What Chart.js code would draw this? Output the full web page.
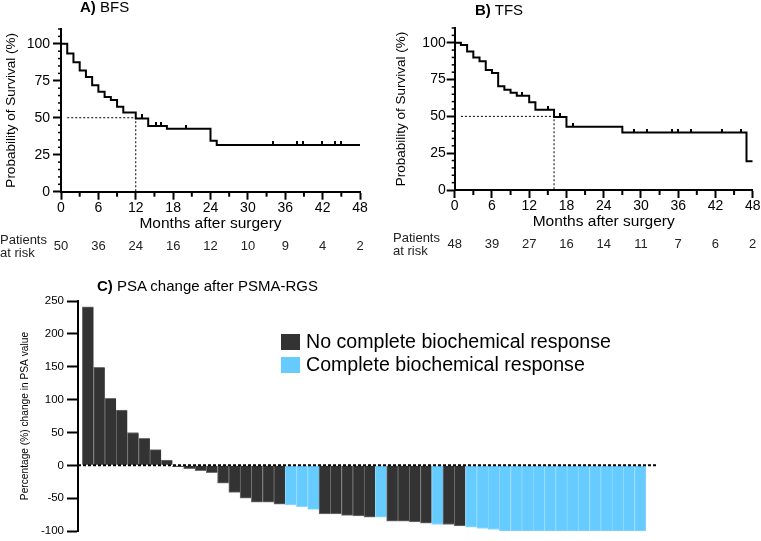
<!DOCTYPE html>
<html>
<head>
<meta charset="utf-8">
<script src="https://cdn.jsdelivr.net/npm/chart.js@4.4.0/dist/chart.umd.min.js"></script>
<style>
  body { margin: 0; background: #fff; font-family: "Liberation Sans", Arial, sans-serif; color: #000; }
  #wrap { position: relative; width: 761px; height: 541px; overflow: hidden; }
  canvas, .t { position: absolute; }
  .t { white-space: nowrap; }
  .sw { position: absolute; width: 19px; height: 16px; }
</style>
</head>
<body>
<div id="wrap">
  <canvas id="kmA" width="380" height="262" style="left:0;top:0"></canvas>
  <canvas id="kmB" width="381" height="262" style="left:380px;top:0"></canvas>
  <canvas id="psa" width="761" height="266" style="left:0;top:275px"></canvas>

  <div class="t" style="left:80px;top:-1px;font-size:15px;line-height:15px"><b>A)</b> BFS</div>
  <div class="t" style="left:475px;top:2px;font-size:15px;line-height:15px"><b>B)</b> TFS</div>
  <div class="t" style="left:97px;top:278px;font-size:15px;line-height:15px"><b>C)</b> PSA change after PSMA-RGS</div>

  <div class="t" style="left:0;top:234px;font-size:13px;line-height:12.5px;color:#222">Patients<br>at risk</div>
  <div class="t" style="left:393px;top:232px;font-size:13px;line-height:12.5px;color:#222">Patients<br>at risk</div>

  <div class="sw" style="left:281px;top:334px;background:#333333"></div>
  <div class="t" style="left:306px;top:333px;font-size:19.6px;line-height:17px">No complete biochemical response</div>
  <div class="sw" style="left:281px;top:357px;background:#66ccff"></div>
  <div class="t" style="left:306px;top:356px;font-size:19.6px;line-height:17px">Complete biochemical response</div>
</div>
<script>
// A) BFS - Kaplan-Meier steps (months, survival %)
const monthsA = [0, 1, 2, 3, 4, 5, 6, 7, 8, 9, 10, 12, 14, 17, 24, 25, 48];
const survA = [100, 93.5, 87.5, 82, 77.5, 72, 67.5, 64, 62, 57.5, 53.5, 49.5, 44.5, 42.5, 34.5, 31.5, 31.5];
const censorA = [13, 15.2, 16.1, 20, 34, 37.9, 38.9, 41.9, 44, 44.9];
const medianA = 12;
const riskA = [50, 36, 24, 16, 12, 10, 9, 4, 2];

// B) TFS
const monthsB = [0, 1, 2, 3, 4, 5, 6, 7, 8, 9, 10, 12, 13, 16, 18, 27, 47, 48];
const survB = [100, 98.4, 94, 90, 87.5, 81.5, 79.5, 70.5, 68, 66, 64, 59.5, 54.5, 49.5, 43, 39, 19.5, 19.5];
const censorB = [10.9, 15, 17, 19, 28.9, 31, 35, 36, 38, 43, 46.1];
const medianB = 16;
const riskB = [48, 39, 27, 16, 14, 11, 7, 6, 2];

const riskMonths = [0, 6, 12, 18, 24, 30, 36, 42, 48];
const survTicks = [0, 25, 50, 75, 100];

// C) PSA change (%) per patient, 1 = complete biochemical response
const psaChange = [241, 149, 102, 84, 50, 41, 24, 8, -2, -5, -8, -11, -27, -41, -50, -56, -56, -59,
  -60, -63, -67, -74, -74, -76, -77, -79, -79, -85, -85, -86, -88, -90, -90, -92,
  -94, -96, -97.5, -100, -100, -100, -100, -100, -100, -100, -100, -100, -100, -100, -100, -100];
const completeResponse = [0, 0, 0, 0, 0, 0, 0, 0, 0, 0, 0, 0, 0, 0, 0, 0, 0, 0,
  1, 1, 1, 0, 0, 0, 0, 0, 1, 0, 0, 0, 0, 1, 0, 0,
  1, 1, 1, 1, 1, 1, 1, 1, 1, 1, 1, 1, 1, 1, 1, 1];

Chart.defaults.font.family = '"Liberation Sans", Arial, sans-serif';
Chart.defaults.color = '#000';

function survAt(months, surv, t) {
  let v = surv[0];
  months.forEach((m, i) => { if (m <= t) v = surv[i]; });
  return v;
}

// small censor tick sitting on top of the curve
function censorMark() {
  const c = document.createElement('canvas');
  c.width = 2; c.height = 8;
  const g = c.getContext('2d');
  g.fillStyle = '#000';
  g.fillRect(0, 0, 2, 4);
  return c;
}

function kmChart(id, months, surv, censor, median, risk, lay) {
  const riskPlugin = {
    id: 'risk',
    afterDraw(chart) {
      const { ctx, scales: { x, y } } = chart;
      ctx.save();
      ctx.strokeStyle = '#000';
      ctx.lineWidth = 2;
      for (let m = 3; m < 48; m += 6) {
        const px = x.getPixelForValue(m);
        ctx.beginPath(); ctx.moveTo(px, y.bottom); ctx.lineTo(px, y.bottom + 5); ctx.stroke();
      }
      ctx.lineWidth = 1.5;
      for (let v = 5; v <= 110; v += 5) {
        if (v % 25 === 0) continue;
        const py = y.getPixelForValue(v);
        ctx.beginPath(); ctx.moveTo(x.left, py); ctx.lineTo(x.left - 3, py); ctx.stroke();
      }
      ctx.fillStyle = '#222';
      ctx.font = '13px "Liberation Sans", Arial, sans-serif';
      ctx.textAlign = 'center';
      ctx.textBaseline = 'middle';
      risk.forEach((n, i) => ctx.fillText(n, x.getPixelForValue(riskMonths[i]), lay.riskY));
      ctx.restore();
    }
  };

  return new Chart(document.getElementById(id), {
    type: 'line',
    data: {
      datasets: [
        {
          data: [{ x: 1, y: 50 }, { x: median, y: 50 }, { x: median, y: 0 }],
          borderColor: '#000', borderWidth: 1, borderDash: [2, 2], pointRadius: 0
        },
        {
          data: months.map((m, i) => ({ x: m, y: surv[i] })),
          stepped: true, borderColor: '#000', borderWidth: 2, pointRadius: 0
        },
        {
          data: censor.map(m => ({ x: m, y: survAt(months, surv, m) })),
          showLine: false, pointStyle: censorMark(), pointRadius: 3
        }
      ]
    },
    options: {
      responsive: false,
      animation: false,
      layout: { padding: lay.padding },
      plugins: { legend: { display: false }, tooltip: { enabled: false } },
      scales: {
        x: {
          type: 'linear', min: 0, max: 48,
          ticks: { stepSize: 6, font: { size: 14 }, color: '#000', padding: lay.tickPad, maxRotation: 0 },
          grid: { drawOnChartArea: false, tickLength: 8, tickWidth: 2, tickColor: '#000' },
          border: { color: '#000', width: 2 },
          title: { display: true, text: 'Months after surgery', font: { size: 15.5 }, color: '#000',
            padding: { top: 0, bottom: lay.titlePad } },
          afterFit: s => { s.height = 45; }
        },
        y: {
          type: 'linear', min: 0, max: 110,
          afterBuildTicks: s => { s.ticks = survTicks.map(v => ({ value: v })); },
          ticks: { font: { size: 14 }, color: '#000', padding: lay.yTickPad },
          grid: { drawOnChartArea: false, tickLength: 8, tickWidth: 2, tickColor: '#000' },
          border: { color: '#000', width: 2 },
          title: { display: true, text: 'Probability of Survival (%)', font: { size: 13.5 }, color: '#000',
            padding: { top: lay.yTitlePad, bottom: 0 } },
          afterFit: s => { s.width = lay.yWidth; }
        }
      }
    },
    plugins: [riskPlugin]
  });
}

kmChart('kmA', monthsA, survA, censorA, medianA, riskA, {
  padding: { top: 29, right: 20, bottom: 25.3, left: 0 },
  yWidth: 61, yTickPad: 3, yTitlePad: 3.6, tickPad: 0, titlePad: 3.4, riskY: 246.7
});
kmChart('kmB', monthsB, survB, censorB, medianB, riskB, {
  padding: { top: 28, right: 8.3, bottom: 27, left: 0 },
  yWidth: 74.7, yTickPad: 1, yTitlePad: 13.6, tickPad: 0, titlePad: 3.7, riskY: 244.5
});

// C) waterfall
const zeroLine = {
  id: 'zeroLine',
  afterDatasetsDraw(chart) {
    const { ctx, chartArea, scales: { y } } = chart;
    const py = y.getPixelForValue(0);
    ctx.save();
    ctx.setLineDash([3, 2]);
    ctx.lineWidth = 2;
    ctx.strokeStyle = '#000';
    ctx.beginPath(); ctx.moveTo(chartArea.left, py); ctx.lineTo(chartArea.right, py); ctx.stroke();
    ctx.restore();
  }
};

new Chart(document.getElementById('psa'), {
  type: 'bar',
  data: {
    datasets: [{
      data: psaChange.map((v, i) => ({ x: i, y: v })),
      backgroundColor: completeResponse.map(c => c ? '#66ccff' : '#333333'),
      borderColor: completeResponse.map(c => c ? '#8fd8ff' : '#707070'),
      borderWidth: { left: 1, right: 0, top: 1, bottom: 1 },
      borderSkipped: 'start',
      barPercentage: 1, categoryPercentage: 1
    }]
  },
  options: {
    responsive: false,
    animation: false,
    layout: { padding: { top: 26, right: 105, bottom: 3.3, left: 0 } },
    plugins: { legend: { display: false }, tooltip: { enabled: false } },
    scales: {
      x: {
        type: 'linear', display: false, offset: false, min: -0.88, max: 50.4,
        grid: { offset: false },
        afterBuildTicks: s => { s.ticks = psaChange.map((v, i) => ({ value: i })); }
      },
      y: {
        min: -100, max: 250,
        ticks: { stepSize: 50, font: { size: 11.5 }, color: '#000', padding: 3 },
        grid: { drawOnChartArea: false, tickLength: 11, tickWidth: 2, tickColor: '#000' },
        border: { color: '#000', width: 2 },
        title: { display: true, text: 'Percentage (%) change in PSA value', font: { size: 10.2 }, color: '#000',
          padding: { top: 19, bottom: 0 } },
        afterFit: s => { s.width = 78; }
      }
    }
  },
  plugins: [zeroLine]
});
</script>
</body>
</html>
